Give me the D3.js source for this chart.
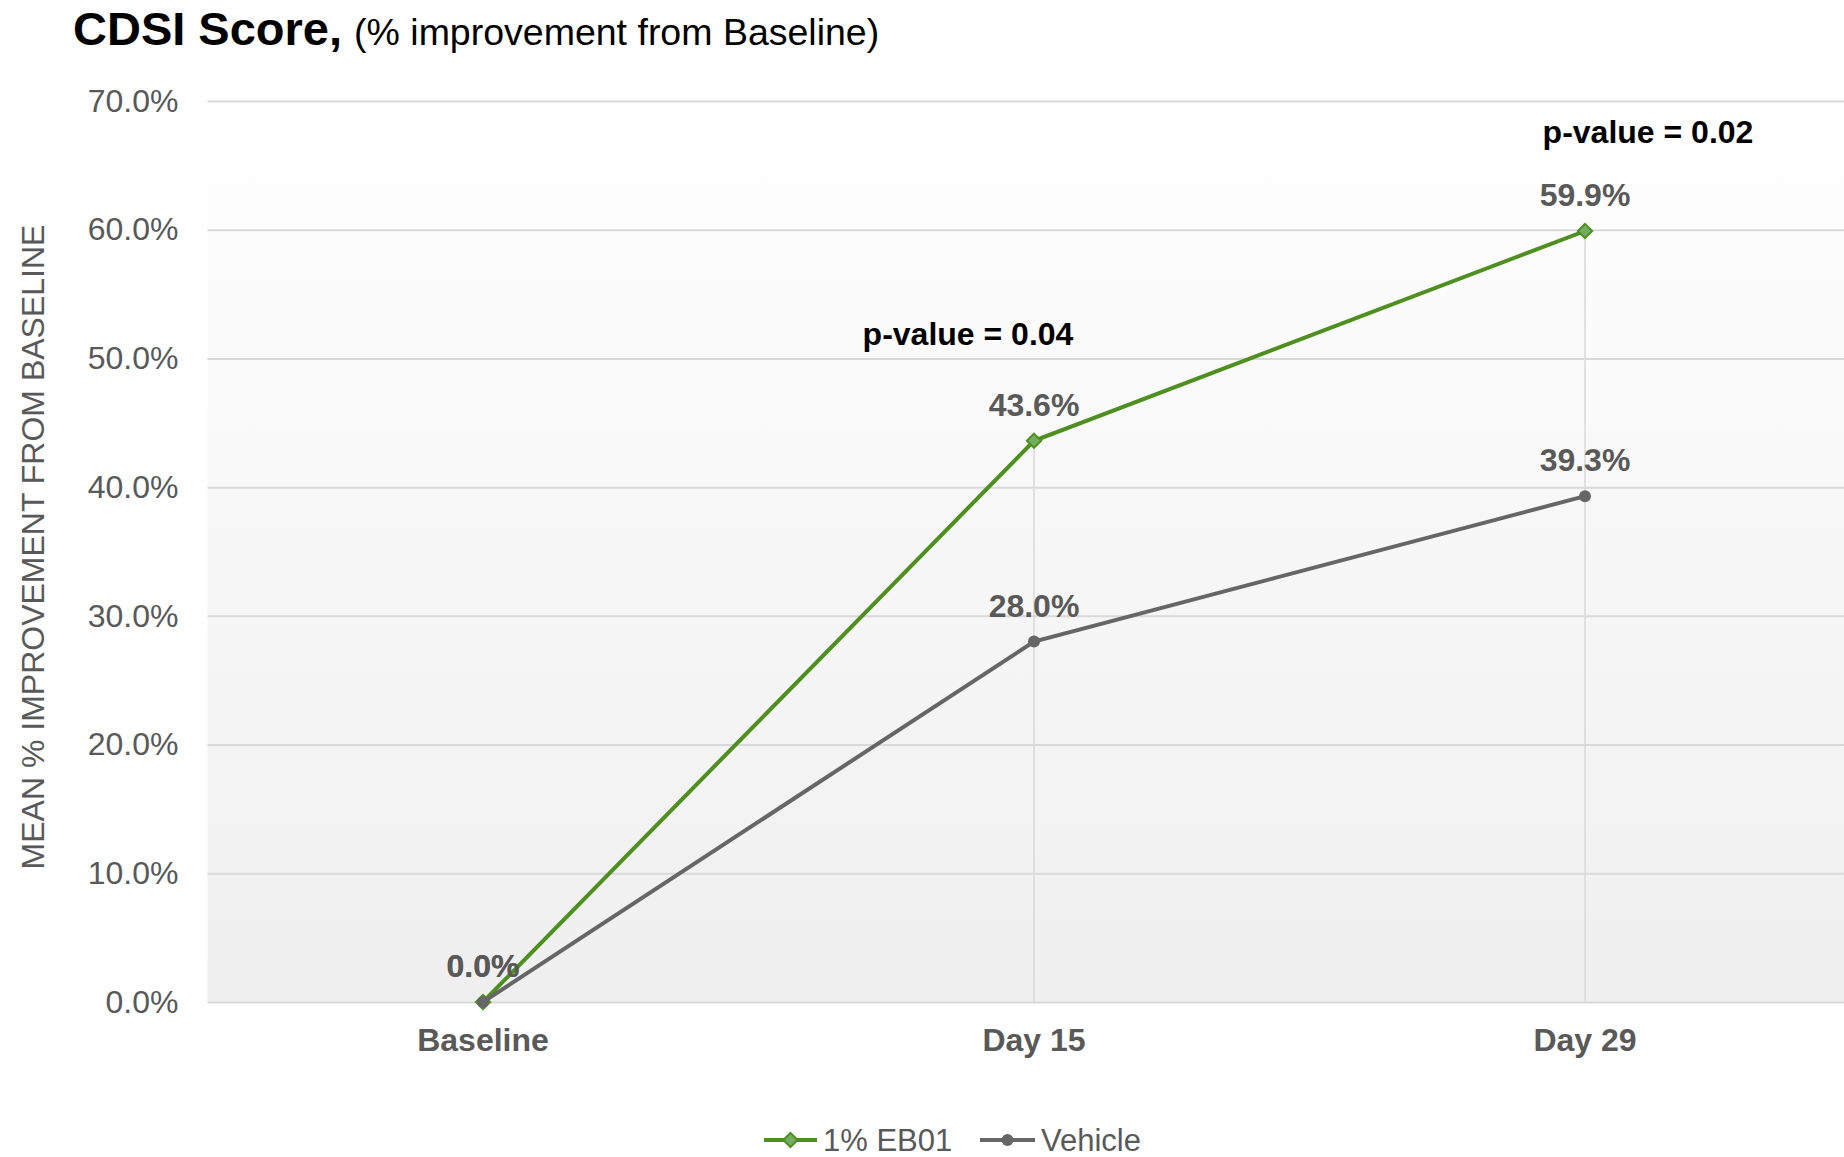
<!DOCTYPE html>
<html>
<head>
<meta charset="utf-8">
<script src="https://cdn.jsdelivr.net/npm/d3@7"></script>
<style>
  body { margin: 0; background: #fff; }
  text { font-family: "Liberation Sans", Arial, sans-serif; }
</style>
</head>
<body>
<script>
'use strict';

let categories = ['Baseline', 'Day 15', 'Day 29'];
let eb01Values = [0.0, 43.6, 59.9];
let vehicleValues = [0.0, 28.0, 39.3];
let yTicks = [0, 10, 20, 30, 40, 50, 60, 70];
let seriesNames = ['1% EB01', 'Vehicle'];
let pLabels = ['p-value = 0.04', 'p-value = 0.02'];
let pCategories = ['Day 15', 'Day 29'];

let width = 1844;
let height = 1157;

let green = '#4e8f1f';
let greenFill = '#72ad62';
let grey = '#666666';
let textGrey = '#595959';

let x = d3.scaleBand()
    .domain(categories)
    .range([207.5, 1860.5]);

let y = d3.scaleLinear()
    .domain([0, 70])
    .range([1002, 101]);

let cx = (c) => x(c) + x.bandwidth() / 2;

let svg = d3.select('body').append('svg')
    .attr('width', width)
    .attr('height', height);

// plot background, white at top to light grey at bottom
let grad = svg.append('defs').append('linearGradient')
    .attr('id', 'bg')
    .attr('x1', 0).attr('y1', 0).attr('x2', 0).attr('y2', 1);
grad.append('stop').attr('offset', '0%').attr('stop-color', '#ffffff');
grad.append('stop').attr('offset', '100%').attr('stop-color', '#efefef');

svg.append('rect')
    .attr('x', x.range()[0])
    .attr('y', y(70))
    .attr('width', x.range()[1] - x.range()[0])
    .attr('height', y(0) - y(70))
    .attr('fill', 'url(#bg)');

// gridlines + y labels
let yAxis = d3.axisLeft(y)
    .tickValues(yTicks)
    .tickSize(-(x.range()[1] - x.range()[0]))
    .tickPadding(29)
    .tickFormat((d) => d.toFixed(1) + '%');

let gy = svg.append('g')
    .attr('transform', 'translate(' + x.range()[0] + ',0)')
    .call(yAxis);
gy.select('.domain').remove();
gy.selectAll('.tick line').attr('stroke', '#d9d9d9').attr('stroke-width', 2);
gy.selectAll('.tick text')
    .attr('fill', textGrey)
    .style('font-size', '32px');

// drop lines from the highest point to the axis
categories.forEach((c, i) => {
  let top = Math.max(eb01Values[i], vehicleValues[i]);
  if (top <= 0) return;
  svg.append('line')
      .attr('x1', cx(c)).attr('x2', cx(c))
      .attr('y1', y(top)).attr('y2', y(0))
      .attr('stroke', '#d9d9d9')
      .attr('stroke-width', 1.5);
});

// x labels
let xAxis = d3.axisBottom(x).tickSize(0).tickPadding(26);
let gx = svg.append('g')
    .attr('transform', 'translate(0,' + y(0) + ')')
    .call(xAxis);
gx.select('.domain').remove();
gx.selectAll('.tick text')
    .attr('fill', textGrey)
    .style('font-size', '32px')
    .style('font-weight', 'bold');

let line = d3.line()
    .x((d, i) => cx(categories[i]))
    .y((d) => y(d));

let diamond = d3.symbol().type(d3.symbolDiamond2).size(130);

// EB01 series
svg.append('path')
    .datum(eb01Values)
    .attr('d', line)
    .attr('fill', 'none')
    .attr('stroke', green)
    .attr('stroke-width', 4);

svg.selectAll('.m-eb')
  .data(eb01Values)
  .enter().append('path')
    .attr('class', 'm-eb')
    .attr('d', diamond)
    .attr('transform', (d, i) => 'translate(' + cx(categories[i]) + ',' + y(d) + ')')
    .attr('fill', greenFill)
    .attr('stroke', green)
    .attr('stroke-width', 2);

// Vehicle series
svg.append('path')
    .datum(vehicleValues)
    .attr('d', line)
    .attr('fill', 'none')
    .attr('stroke', grey)
    .attr('stroke-width', 4);

svg.selectAll('.m-veh')
  .data(vehicleValues)
  .enter().append('circle')
    .attr('class', 'm-veh')
    .attr('cx', (d, i) => cx(categories[i]))
    .attr('cy', (d) => y(d))
    .attr('r', 6)
    .attr('fill', grey);

// data labels
let labelData = eb01Values.map((v, i) => ({c: categories[i], v: v}))
    .concat(vehicleValues.map((v, i) => ({c: categories[i], v: v})));

svg.selectAll('.dl')
  .data(labelData)
  .enter().append('text')
    .attr('class', 'dl')
    .attr('x', (d) => cx(d.c))
    .attr('y', (d) => y(d.v) - 25)
    .attr('text-anchor', 'middle')
    .attr('fill', textGrey)
    .style('font-size', '32px')
    .style('font-weight', 'bold')
    .text((d) => d.v.toFixed(1) + '%');

// p-value notes
let pOffsets = [[-66, 96], [63, 88]];
pLabels.forEach((t, i) => {
  let c = pCategories[i];
  let v = eb01Values[categories.indexOf(c)];
  svg.append('text')
      .attr('x', cx(c) + pOffsets[i][0])
      .attr('y', y(v) - pOffsets[i][1])
      .attr('text-anchor', 'middle')
      .attr('fill', '#000')
      .style('font-size', '32px')
      .style('font-weight', 'bold')
      .text(t);
});

// title
let title = svg.append('text')
    .attr('x', 73)
    .attr('y', 45)
    .attr('fill', '#000');
title.append('tspan')
    .style('font-size', '47px')
    .style('font-weight', 'bold')
    .text('CDSI Score,');
title.append('tspan')
    .attr('dx', 12)
    .style('font-size', '37.5px')
    .text('(% improvement from Baseline)');

// y axis title
svg.append('text')
    .attr('transform', 'translate(44,547) rotate(-90)')
    .attr('text-anchor', 'middle')
    .attr('fill', textGrey)
    .style('font-size', '32px')
    .text('MEAN % IMPROVEMENT FROM BASELINE');

// legend
let legend = svg.append('g').attr('transform', 'translate(764,1140)');

let leg1 = legend.append('g');
leg1.append('line')
    .attr('x1', 0).attr('x2', 53).attr('y1', 0).attr('y2', 0)
    .attr('stroke', green).attr('stroke-width', 4);
leg1.append('path')
    .attr('d', diamond)
    .attr('transform', 'translate(26.5,0)')
    .attr('fill', greenFill)
    .attr('stroke', green)
    .attr('stroke-width', 2);
leg1.append('text')
    .attr('x', 59).attr('y', 11)
    .attr('fill', textGrey)
    .style('font-size', '31px')
    .text(seriesNames[0]);

let leg2 = legend.append('g').attr('transform', 'translate(216,0)');
leg2.append('line')
    .attr('x1', 0).attr('x2', 55).attr('y1', 0).attr('y2', 0)
    .attr('stroke', grey).attr('stroke-width', 4);
leg2.append('circle')
    .attr('cx', 27.5).attr('cy', 0).attr('r', 6)
    .attr('fill', grey);
leg2.append('text')
    .attr('x', 61).attr('y', 11)
    .attr('fill', textGrey)
    .style('font-size', '31px')
    .text(seriesNames[1]);
</script>
</body>
</html>
